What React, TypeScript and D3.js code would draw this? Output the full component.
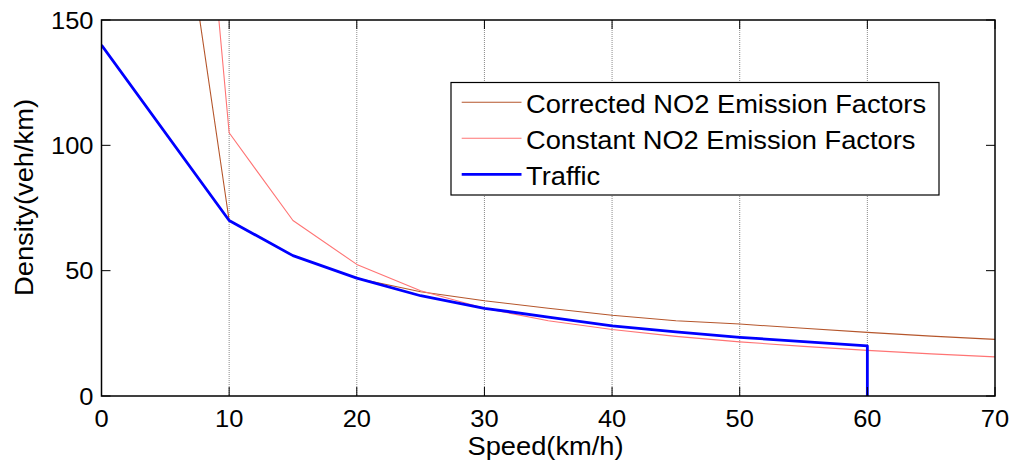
import React from "react";
import * as d3 from "d3";

const xTicks = [0, 10, 20, 30, 40, 50, 60, 70];
const yTicks = [0, 50, 100, 150];

const trafficSpeed = [0, 10, 15, 20, 25, 30, 35, 40, 45, 50, 55, 60, 60];
const trafficDensity = [140, 70, 56, 47, 40, 35, 31.5, 28, 25.6, 23.4, 21.7, 20, 0];

const factorSpeed = [5, 10, 15, 20, 25, 30, 35, 40, 45, 50, 55, 60, 65, 70];
const correctedDensity = [244, 70, 56, 47, 41.6, 38, 35, 32.2, 30, 28.7, 27, 25.4, 23.9, 22.6];
const constantDensity = [385, 105, 70, 52.5, 42, 35, 30, 26.5, 23.8, 21.6, 19.8, 18.2, 16.8, 15.6];

const legendLabels = [
  "Corrected NO2 Emission Factors",
  "Constant NO2 Emission Factors",
  "Traffic",
];
const xLabel = "Speed(km/h)";
const yLabel = "Density(veh/km)";

const W = 1013;
const H = 462;
const L = 101.5, R = 995, T = 20, B = 396;
const FONT = "'Liberation Sans', Arial, sans-serif";
const SX = 1.07;

export default function App() {
  const x = d3.scaleLinear().domain([0, 70]).range([L, R]);
  const y = d3.scaleLinear().domain([0, 150]).range([B, T]);
  const line = d3
    .line<[number, number]>()
    .x((d) => x(d[0]))
    .y((d) => y(d[1]));

  const traffic = trafficSpeed.map((s, i) => [s, trafficDensity[i]] as [number, number]);
  const corrected = factorSpeed.map((s, i) => [s, correctedDensity[i]] as [number, number]);
  const constant = factorSpeed.map((s, i) => [s, constantDensity[i]] as [number, number]);

  const series = [
    { label: legendLabels[0], data: corrected, color: "#b5562c", width: 1.1 },
    { label: legendLabels[1], data: constant, color: "#ff7474", width: 1.1 },
    { label: legendLabels[2], data: traffic, color: "#0000ff", width: 2.8 },
  ];

  const tickLen = 9;
  const legX0 = 451, legX1 = 939, legY0 = 82.5, legY1 = 195;
  const rowY = [102.3, 138.3, 174.3];

  return (
    <svg
      width={W}
      height={H}
      style={{ position: "absolute", left: 0, top: 0, background: "#fff" }}
      fontFamily={FONT}
    >
      <defs>
        <clipPath id="plot">
          <rect x={L} y={T} width={R - L} height={B - T} />
        </clipPath>
      </defs>
      <rect x={0} y={0} width={W} height={H} fill="#fff" />
      {/* grid */}
      {xTicks
        .filter((t) => t > 0 && t < 70)
        .map((t) => (
          <line
            key={"g" + t}
            x1={x(t)}
            x2={x(t)}
            y1={T}
            y2={B}
            stroke="#8a8a8a"
            strokeWidth={1}
            strokeDasharray="1 1"
          />
        ))}
      {/* series */}
      <g clipPath="url(#plot)">
        {series.map((s) => (
          <path
            key={s.label}
            d={line(s.data) || ""}
            fill="none"
            stroke={s.color}
            strokeWidth={s.width}
            strokeLinejoin="round"
          />
        ))}
      </g>
      {/* box */}
      <rect x={L} y={T} width={R - L} height={B - T} fill="none" stroke="#000" strokeWidth={1.5} />
      {/* ticks */}
      {xTicks.map((t) => (
        <g key={"xt" + t}>
          <line x1={x(t)} x2={x(t)} y1={B} y2={B - tickLen} stroke="#000" strokeWidth={1} />
          <line x1={x(t)} x2={x(t)} y1={T} y2={T + tickLen} stroke="#000" strokeWidth={1} />
          <text
            transform={`translate(${x(t)},${427}) scale(${SX},1)`}
            textAnchor="middle"
            fontSize={23.8}
            fill="#000"
          >
            {t}
          </text>
        </g>
      ))}
      {yTicks.map((t) => (
        <g key={"yt" + t}>
          <line x1={L} x2={L + tickLen} y1={y(t)} y2={y(t)} stroke="#000" strokeWidth={1} />
          <line x1={R} x2={R - tickLen} y1={y(t)} y2={y(t)} stroke="#000" strokeWidth={1} />
          <text
            transform={`translate(${93.5},${y(t) + 8.5}) scale(${SX},1)`}
            textAnchor="end"
            fontSize={23.8}
            fill="#000"
          >
            {t}
          </text>
        </g>
      ))}
      {/* axis labels */}
      <text
        transform={`translate(${545.5},${455}) scale(${SX},1)`}
        textAnchor="middle"
        fontSize={25.5}
        fill="#000"
      >
        {xLabel}
      </text>
      <text
        transform={`translate(${33},${197.5}) rotate(-90) scale(${SX},1)`}
        textAnchor="middle"
        fontSize={25.5}
        fill="#000"
      >
        {yLabel}
      </text>
      {/* legend */}
      <rect
        x={legX0}
        y={legY0}
        width={legX1 - legX0}
        height={legY1 - legY0}
        fill="#fff"
        stroke="#000"
        strokeWidth={1.2}
      />
      {series.map((s, i) => (
        <g key={"lg" + i}>
          <line
            x1={461.7}
            x2={521.5}
            y1={rowY[i]}
            y2={rowY[i]}
            stroke={s.color}
            strokeWidth={s.width}
          />
          <text
            transform={`translate(${526},${rowY[i] + 10.4}) scale(${SX},1)`}
            fontSize={25.5}
            fill="#000"
          >
            {s.label}
          </text>
        </g>
      ))}
    </svg>
  );
}
